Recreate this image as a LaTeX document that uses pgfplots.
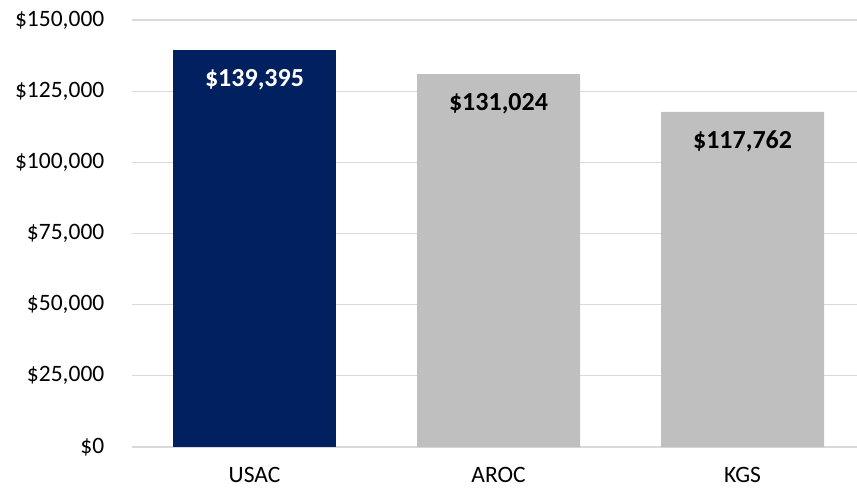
\documentclass[border=0pt]{standalone}
\usepackage{pgfplots}
\pgfplotsset{compat=1.18}
\usepackage{fontspec}
\setmainfont{Carlito}
\usetikzlibrary{calc}
\definecolor{navy}{RGB}{0,32,96}
\definecolor{barg}{RGB}{191,191,191}
\definecolor{gridc}{RGB}{217,217,217}
\begin{document}
\begin{tikzpicture}
\begin{axis}[name=ax, scale only axis, width=724.5pt, height=427pt,
  ybar,
  xmin=-0.5, xmax=2.469, ymin=0, ymax=150000,
  ytick={0,25000,50000,75000,100000,125000,150000},
  xtick={0,1,2}, xticklabels={USAC,AROC,KGS},
  axis line style={draw=none},
  major tick length=0pt,
  ymajorgrids, grid style={gridc, line width=1.3pt},
  scaled y ticks=false,
  /pgf/number format/fixed,
  /pgf/number format/1000 sep={,},
  /pgf/number format/assume math mode=true,
  tick label style={font=\fontsize{23.5}{28}\selectfont, text=black, inner sep=0pt},
  yticklabel={\$\pgfmathprintnumber{\tick}},
  yticklabel style={anchor=east, xshift=-28pt},
  xticklabel style={anchor=north, yshift=-20pt},
  bar width=0.668,
  nodes near coords={\$\pgfmathprintnumber{\pgfplotspointmeta}},
  nodes near coords style={font=\fontsize{26}{30}\selectfont\bfseries, anchor=center, yshift=-30pt},
]
\addplot[fill=navy, draw=none, bar shift=0pt, every node near coord/.append style={text=white}] coordinates {(0,139395)};
\addplot[fill=barg, draw=none, bar shift=0pt, every node near coord/.append style={text=black}] coordinates {(1,131024) (2,117762)};
\end{axis}
\pgfresetboundingbox
\path[use as bounding box] ($(ax.south west)+(-132.5pt,-41pt)$) rectangle ($(ax.north east)+(0pt,20pt)$);
\end{tikzpicture}
\end{document}
